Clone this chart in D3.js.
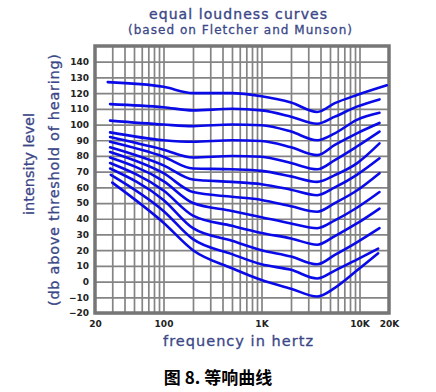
<!DOCTYPE html>
<html>
<head>
<meta charset="utf-8">
<script src="https://cdn.jsdelivr.net/npm/d3@7"></script>
<style>
  body { margin: 0; background: #fff; }
  svg { display: block; }
</style>
</head>
<body>
<div id="chart"></div>
<script>
// phon level of each curve (top to bottom)
const phons = [120, 110, 100, 90, 80, 70, 60, 50, 40, 30, 20, 10, 0];

// where each curve starts / ends
const startHz = [27, 28.5, 28.5, 28.5, 28.5, 28.5, 28.5, 28.5, 28.5, 28.5, 28.5, 29, 30];
const startDb = [127, 113, 102.5, 95, 92, 89, 85.5, 82.5, 79, 75.5, 72, 68, 63];
const endHz = [19000, 16000, 16000, 16000, 16000, 16000, 16000, 16000, 16000, 16000, 16000, 15500, 15500];
const endDb = [125, 116, 107.5, 101, 95.5, 88, 78.5, 69, 57, 46.5, 34, 21, 18];

// levels in between, read at these frequencies
const midHz = [100, 200, 500, 1000, 2000, 3700, 5600, 9400];
const midDb = [
    [124, 120, 120, 118, 114, 108, 113.6, 118.8],
    [111, 109, 110, 109, 105, 100.5, 105, 111.4],
    [100, 99, 100, 99.5, 95.5, 90, 94.4, 103],
    [90, 89, 90, 89.5, 85.5, 80.5, 87, 94.4],
    [84, 79, 80, 79.5, 75.5, 71.5, 77.4, 86],
    [79.5, 72, 71.5, 70.5, 67, 63.5, 67.8, 75.3],
    [74, 65, 63.5, 62, 58.5, 55, 60, 68],
    [69, 57, 54, 52, 48, 44.5, 50, 58],
    [64, 50, 45, 41, 37, 34, 39, 47],
    [58, 42, 35.5, 31, 27.5, 23.5, 29, 37],
    [52, 34, 26, 20, 16, 11, 17, 25],
    [45, 27, 17.5, 11, 7.5, 2, 7, 14],
    [37.5, 20, 8.5, 1, -4.5, -9.5, -4, 7]
];

const yTicks = d3.range(-20, 141, 10);
const xGrid = [30, 40, 50, 60, 70, 80, 90, 100, 200, 300, 400, 500, 600, 700, 800, 900, 1000,
               2000, 3000, 4000, 5000, 6000, 7000, 8000, 9000, 10000];
const xTicks = [20, 100, 1000, 10000, 20000];
const xTickText = ['20', '100', '1K', '10K', '20K'];

const W = 436, H = 392;
const svg = d3.select('#chart').append('svg')
    .attr('width', W).attr('height', H);

const x = d3.scaleLog().domain([20, 20000]).range([95, 389]);
const y = d3.scaleLinear().domain([-20, 150]).range([313, 46]);

const labelColor = '#3b4787';

// titles
svg.append('text').attr('x', 238).attr('y', 19).attr('text-anchor', 'middle')
    .attr('font-family', 'DejaVu Sans').attr('font-size', 14).attr('fill', labelColor)
    .attr('stroke', labelColor).attr('stroke-width', 0.35)
    .attr('textLength', 178).attr('lengthAdjust', 'spacing')
    .text('equal loudness curves');
svg.append('text').attr('x', 240).attr('y', 34).attr('text-anchor', 'middle')
    .attr('font-family', 'DejaVu Sans').attr('font-size', 12).attr('fill', labelColor)
    .attr('stroke', labelColor).attr('stroke-width', 0.3)
    .attr('textLength', 224).attr('lengthAdjust', 'spacing')
    .text('(based on Fletcher and Munson)');

// grid
const grid = svg.append('g');
grid.append('g')
    .attr('transform', 'translate(0,' + y(-20) + ')')
    .call(d3.axisBottom(x).tickValues(xGrid).tickSize(y(-20) - y(150)).tickFormat(''))
    .call(g => g.select('.domain').remove())
    .call(g => g.selectAll('line').attr('y2', -(y(-20) - y(150))));
grid.append('g')
    .attr('transform', 'translate(' + x(20) + ',0)')
    .call(d3.axisRight(y).tickValues(yTicks).tickSize(x(20000) - x(20)).tickFormat(''))
    .call(g => g.select('.domain').remove());
grid.selectAll('line').attr('stroke', '#848484').attr('stroke-width', 1.7);

// frame
svg.append('rect')
    .attr('x', x(20)).attr('y', y(150))
    .attr('width', x(20000) - x(20)).attr('height', y(-20) - y(150))
    .attr('fill', 'none').attr('stroke', '#767676').attr('stroke-width', 3.5);

// tick labels
svg.append('g')
    .attr('transform', 'translate(' + (x(20) - 2) + ',0)')
    .call(d3.axisLeft(y).tickValues(yTicks).tickSize(0).tickPadding(4))
    .call(g => g.select('.domain').remove())
    .call(g => g.selectAll('text').attr('font-family', 'DejaVu Sans').attr('font-weight', 'bold')
        .attr('font-size', 9).attr('fill', '#222'));
svg.append('g')
    .attr('transform', 'translate(0,' + (y(-20) + 5) + ')')
    .call(d3.axisBottom(x).tickValues(xTicks).tickSize(0)
        .tickFormat((d, i) => xTickText[i]))
    .call(g => g.select('.domain').remove())
    .call(g => g.selectAll('text').attr('font-family', 'DejaVu Sans').attr('font-weight', 'bold')
        .attr('font-size', 9).attr('fill', '#222'));

// axis titles
svg.append('text')
    .attr('transform', 'translate(34,164) rotate(-90)').attr('text-anchor', 'middle')
    .attr('font-family', 'DejaVu Sans').attr('font-size', 14.5).attr('fill', labelColor)
    .attr('stroke', labelColor).attr('stroke-width', 0.3)
    .text('intensity level');
svg.append('text')
    .attr('transform', 'translate(59,180) rotate(-90)').attr('text-anchor', 'middle')
    .attr('font-family', 'DejaVu Sans').attr('font-size', 14.5).attr('fill', labelColor)
    .attr('stroke', labelColor).attr('stroke-width', 0.3)
    .attr('textLength', 252).attr('lengthAdjust', 'spacing')
    .text('(db above threshold of hearing)');
svg.append('text').attr('x', 238).attr('y', 346).attr('text-anchor', 'middle')
    .attr('font-family', 'DejaVu Sans').attr('font-size', 14.5).attr('fill', labelColor)
    .attr('stroke', labelColor).attr('stroke-width', 0.3)
    .attr('textLength', 150).attr('lengthAdjust', 'spacing')
    .text('frequency in hertz');

// caption
svg.append('text').attr('x', 218).attr('y', 384).attr('text-anchor', 'middle')
    .attr('font-family', '"Noto Sans CJK SC", sans-serif').attr('font-weight', 'bold')
    .attr('font-size', 17).attr('fill', '#000')
    .text('图 8. 等响曲线');

// curves
const curves = phons.map((p, i) => {
    const pts = [[startHz[i], startDb[i]]];
    midHz.forEach((f, j) => pts.push([f, midDb[i][j]]));
    pts.push([endHz[i], endDb[i]]);
    return pts;
});

const line = d3.line()
    .x(d => x(d[0]))
    .y(d => y(d[1]))
    .curve(d3.curveMonotoneX);

svg.append('g').selectAll('path').data(curves).enter().append('path')
    .attr('d', line)
    .attr('fill', 'none')
    .attr('stroke', '#0a0ae8')
    .attr('stroke-width', 2.6)
    .attr('stroke-linecap', 'round');
</script>
</body>
</html>
